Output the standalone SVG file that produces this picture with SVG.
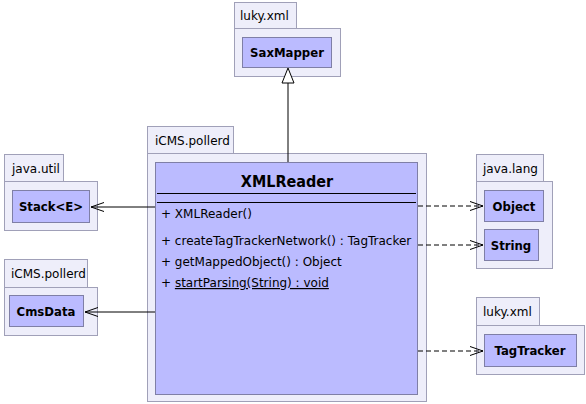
<svg xmlns="http://www.w3.org/2000/svg" width="586" height="404" viewBox="0 0 586 404">
<defs>
<style>
.pkg{fill:#eeeefa;stroke:#a0a0b8;stroke-width:1}
.cls{fill:#bbbbff;stroke:#7f7fa6;stroke-width:1}
.ptxt{font-family:"DejaVu Sans",sans-serif;font-size:12px;fill:#000}
.ctxt{font-family:"DejaVu Sans Condensed","DejaVu Sans",sans-serif;font-size:13px;font-weight:bold;fill:#000;text-anchor:middle}
.mtxt{font-family:"DejaVu Sans",sans-serif;font-size:12px;fill:#000}
.ln{stroke:#000;stroke-width:1;fill:none}
.dash{stroke:#000;stroke-width:1;fill:none;stroke-dasharray:5,3}
</style>
<marker id="open" markerWidth="14" markerHeight="10" refX="13" refY="5" orient="auto" markerUnits="userSpaceOnUse">
<path d="M0,0.5 L13,5 L0,9.5" fill="none" stroke="#000" stroke-width="1"/>
</marker>
</defs>
<g id="pkg-luky-top">
<rect class="pkg" x="234.5" y="2.5" width="62" height="26"/>
<rect class="pkg" x="234.5" y="28.5" width="106" height="48"/>
<text class="ptxt" x="240" y="20">luky.xml</text>
</g>
<g id="SaxMapper">
<rect class="cls" x="242.5" y="37.5" width="89" height="30"/>
<text class="ctxt" x="287" y="57">SaxMapper</text>
</g>
<g id="pkg-java-util">
<rect class="pkg" x="4.5" y="154.5" width="59" height="27"/>
<rect class="pkg" x="4.5" y="181.5" width="93" height="49"/>
<text class="ptxt" x="12" y="173">java.util</text>
</g>
<g id="Stack">
<rect class="cls" x="12.5" y="190.5" width="77" height="32"/>
<text class="ctxt" x="51" y="211">Stack&lt;E&gt;</text>
</g>
<g id="pkg-icms-left">
<rect class="pkg" x="4.5" y="259.5" width="83" height="28"/>
<rect class="pkg" x="4.5" y="287.5" width="93" height="48"/>
<text class="ptxt" x="11" y="278">iCMS.pollerd</text>
</g>
<g id="CmsData">
<rect class="cls" x="9.5" y="295.5" width="74" height="31"/>
<text class="ctxt" x="46" y="316">CmsData</text>
</g>
<g id="pkg-icms-main">
<rect class="pkg" x="147.5" y="126.5" width="86" height="27"/>
<rect class="pkg" x="147.5" y="153.5" width="279" height="248"/>
<text class="ptxt" x="155" y="145">iCMS.pollerd</text>
</g>
<g id="XMLReader">
<rect class="cls" x="155.5" y="162.5" width="262" height="232"/>
<text class="ctxt" x="287" y="187" style="font-size:16px">XMLReader</text>
<line class="ln" x1="157" y1="193.5" x2="416" y2="193.5"/>
<line class="ln" x1="157" y1="202.5" x2="416" y2="202.5"/>
<text class="mtxt" x="161" y="218">+ XMLReader()</text>
<text class="mtxt" x="161" y="245">+ createTagTrackerNetwork() : TagTracker</text>
<text class="mtxt" x="161" y="266">+ getMappedObject() : Object</text>
<text class="mtxt" x="161" y="287">+ <tspan text-decoration="underline">startParsing(String) : void </tspan></text>
</g>
<g id="pkg-java-lang">
<rect class="pkg" x="476.5" y="154.5" width="67" height="27"/>
<rect class="pkg" x="476.5" y="181.5" width="76" height="87"/>
<text class="ptxt" x="483" y="173">java.lang</text>
</g>
<g id="Object">
<rect class="cls" x="484.5" y="190.5" width="59" height="31"/>
<text class="ctxt" x="514" y="211">Object</text>
</g>
<g id="String">
<rect class="cls" x="484.5" y="229.5" width="54" height="31"/>
<text class="ctxt" x="511" y="250">String</text>
</g>
<g id="pkg-luky-bottom">
<rect class="pkg" x="476.5" y="297.5" width="63" height="28"/>
<rect class="pkg" x="476.5" y="325.5" width="108" height="49"/>
<text class="ptxt" x="483" y="316">luky.xml</text>
</g>
<g id="TagTracker">
<rect class="cls" x="484.5" y="334.5" width="92" height="32"/>
<text class="ctxt" x="530" y="355">TagTracker</text>
</g>
<g id="connectors">
<line class="ln" x1="288" y1="162" x2="288" y2="83"/>
<polygon points="288,68 282,83 294,83" fill="#fff" stroke="#000" stroke-width="1"/>
<line class="ln" x1="155" y1="207" x2="91" y2="207" marker-end="url(#open)"/>
<line class="ln" x1="155" y1="312" x2="85" y2="312" marker-end="url(#open)"/>
<line class="dash" x1="418" y1="206" x2="483" y2="206" marker-end="url(#open)"/>
<line class="dash" x1="418" y1="245" x2="483" y2="245" marker-end="url(#open)"/>
<line class="dash" x1="418" y1="351" x2="483" y2="351" marker-end="url(#open)"/>
</g>
</svg>
